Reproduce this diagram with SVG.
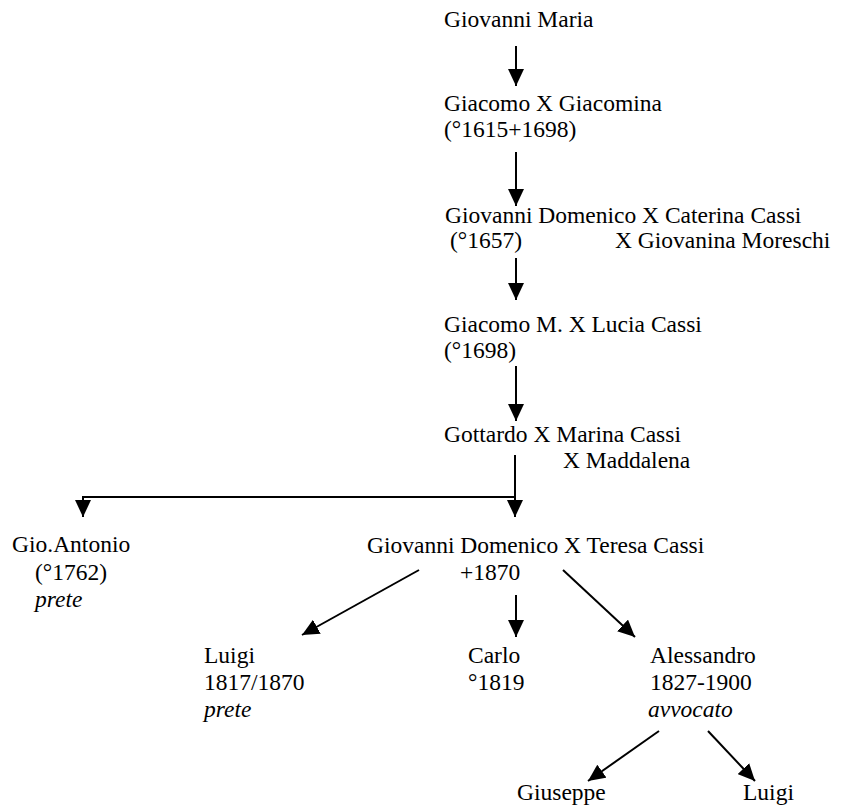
<svg xmlns="http://www.w3.org/2000/svg" width="865" height="805" viewBox="0 0 865 805">
  <style>
    text { font-family: "Liberation Serif", "Times New Roman", serif; font-size: 23.5px; fill: #000; }
    .it { font-style: italic; }
    .link { stroke: #000; stroke-width: 2; fill: none; }
  </style>
  <defs>
    <marker id="arrow" markerUnits="userSpaceOnUse" markerWidth="18" markerHeight="16" refX="17" refY="8" orient="auto">
      <path d="M0,0 L17,8 L0,16 z" fill="#000"/>
    </marker>
  </defs>
  <rect width="865" height="805" fill="#fff"/>

  <g id="connectors">
    <line class="link" x1="516" y1="46" x2="516" y2="86" marker-end="url(#arrow)"/>
    <line class="link" x1="516" y1="152" x2="516" y2="206" marker-end="url(#arrow)"/>
    <line class="link" x1="516" y1="258" x2="516" y2="300" marker-end="url(#arrow)"/>
    <line class="link" x1="516" y1="366" x2="516" y2="421" marker-end="url(#arrow)"/>
    <polyline class="link" points="515,455 515,497 83,497 83,517" marker-end="url(#arrow)"/>
    <line class="link" x1="515" y1="497" x2="515" y2="517" marker-end="url(#arrow)"/>
    <line class="link" x1="419" y1="570" x2="302" y2="635" marker-end="url(#arrow)"/>
    <line class="link" x1="516" y1="595" x2="516" y2="637" marker-end="url(#arrow)"/>
    <line class="link" x1="563" y1="570" x2="635" y2="637" marker-end="url(#arrow)"/>
    <line class="link" x1="659" y1="731" x2="588" y2="781" marker-end="url(#arrow)"/>
    <line class="link" x1="708" y1="731" x2="755" y2="781" marker-end="url(#arrow)"/>
  </g>

  <g id="giovanni-maria">
    <text x="444" y="27">Giovanni Maria</text>
  </g>
  <g id="giacomo">
    <text x="444" y="111">Giacomo X Giacomina</text>
    <text x="444" y="137">(°1615+1698)</text>
  </g>
  <g id="giovanni-domenico-1657">
    <text x="445" y="223">Giovanni Domenico X Caterina Cassi</text>
    <text x="450" y="248">(°1657)</text>
    <text x="615" y="248">X Giovanina Moreschi</text>
  </g>
  <g id="giacomo-m">
    <text x="444" y="332">Giacomo M. X Lucia Cassi</text>
    <text x="444" y="358">(°1698)</text>
  </g>
  <g id="gottardo">
    <text x="444" y="442">Gottardo X Marina Cassi</text>
    <text x="563" y="468">X Maddalena</text>
  </g>
  <g id="gio-antonio">
    <text x="12" y="552">Gio.Antonio</text>
    <text x="35" y="580">(°1762)</text>
    <text x="35" y="607" class="it">prete</text>
  </g>
  <g id="giovanni-domenico-1870">
    <text x="367" y="553">Giovanni Domenico X Teresa Cassi</text>
    <text x="460" y="580">+1870</text>
  </g>
  <g id="luigi-prete">
    <text x="204" y="663">Luigi</text>
    <text x="204" y="690">1817/1870</text>
    <text x="204" y="717" class="it">prete</text>
  </g>
  <g id="carlo">
    <text x="468" y="663">Carlo</text>
    <text x="468" y="690">°1819</text>
  </g>
  <g id="alessandro">
    <text x="650" y="663">Alessandro</text>
    <text x="650" y="690">1827-1900</text>
    <text x="648" y="717" class="it">avvocato</text>
  </g>
  <g id="giuseppe">
    <text x="517" y="800">Giuseppe</text>
  </g>
  <g id="luigi">
    <text x="743" y="800">Luigi</text>
  </g>
</svg>
